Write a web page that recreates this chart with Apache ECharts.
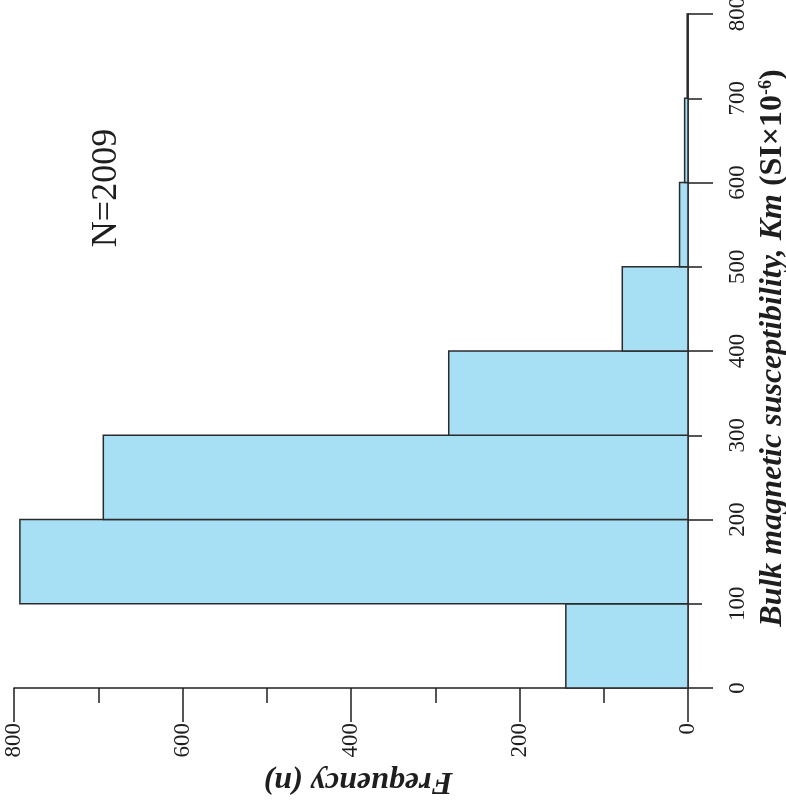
<!DOCTYPE html>
<html>
<head>
<meta charset="utf-8">
<script src="https://cdn.jsdelivr.net/npm/echarts@6/dist/echarts.min.js"></script>
<style>
  html, body { margin: 0; padding: 0; background: #fff; }
  #histogram { width: 786px; height: 800px; }
</style>
</head>
<body>
<div id="histogram"></div>
<script>
// bins of bulk magnetic susceptibility (SI x 10^-6)
var binStarts = [0, 100, 200, 300, 400, 500, 600, 700]
var binEnds = [100, 200, 300, 400, 500, 600, 700, 800]
var counts = [145, 793, 694, 284, 78, 10, 4, 1]
var sampleLabel = 'N=2009'

var serif = '"Liberation Serif", "DejaVu Serif", serif'
var ink = '#1e1e1e'

var chart = echarts.init(document.getElementById('histogram'))

var binData = binStarts.map(function (s, i) {
  return [s, binEnds[i], counts[i]]
})

var option = {
  animation: false,
  grid: {
    left: 14,
    right: 98,
    top: 14,
    bottom: 112,
    containLabel: false,
    outerBoundsMode: 'none'
  },
  xAxis: {
    type: 'value',
    inverse: true,
    position: 'bottom',
    min: 0,
    max: 800,
    interval: 200,
    name: 'Frequency (n)',
    nameLocation: 'middle',
    nameRotate: 180,
    nameGap: 72,
    nameTextStyle: {
      fontFamily: serif,
      fontSize: 32,
      fontWeight: 'bold',
      fontStyle: 'italic',
      color: ink,
      padding: [0, 14, 0, 0]
    },
    axisLine: { show: true, lineStyle: { color: ink, width: 1.5 } },
    axisTick: { show: true, length: 34, lineStyle: { color: ink, width: 1.5 } },
    minorTick: { show: true, splitNumber: 2, length: 15, lineStyle: { color: ink, width: 1.5 } },
    splitLine: { show: false },
    axisLabel: {
      rotate: 90,
      margin: 35,
      fontFamily: serif,
      fontSize: 23,
      color: ink
    }
  },
  yAxis: [
    {
      type: 'value',
      position: 'right',
      min: 0,
      max: 800,
      interval: 100,
      name: '{b|Bulk magnetic susceptibility, Km }{u|(SI×10}{s|-6}{u|)}',
      nameLocation: 'middle',
      nameRotate: 90,
      nameGap: 66,
      nameTextStyle: {
        fontFamily: serif,
        color: ink,
        padding: [0, 0, 0, 6],
        rich: {
          b: { fontFamily: serif, fontSize: 32, fontWeight: 'bold', fontStyle: 'italic', color: ink },
          u: { fontFamily: serif, fontSize: 32, fontWeight: 'bold', color: ink },
          s: { fontFamily: serif, fontSize: 18, fontWeight: 'bold', color: ink, verticalAlign: 'top', padding: [0, 0, 12, 0] }
        }
      },
      axisLine: { show: true, lineStyle: { color: ink, width: 1.5 } },
      axisTick: { show: true, length: 14, lineStyle: { color: ink, width: 1.5 } },
      splitLine: { show: false },
      axisLabel: {
        rotate: 90,
        margin: 38,
        fontFamily: serif,
        fontSize: 23,
        color: ink
      }
    },
    {
      // long ticks every 200
      type: 'value',
      position: 'right',
      min: 0,
      max: 800,
      interval: 200,
      axisLine: { show: false },
      axisTick: { show: true, length: 25, lineStyle: { color: ink, width: 1.5 } },
      axisLabel: { show: false },
      splitLine: { show: false }
    }
  ],
  graphic: [
    {
      type: 'text',
      x: 107,
      y: 188,
      rotation: Math.PI / 2,
      style: {
        text: sampleLabel,
        fontFamily: serif,
        fontSize: 36,
        fill: ink,
        align: 'center',
        verticalAlign: 'middle'
      }
    }
  ],
  series: [
    {
      type: 'custom',
      xAxisIndex: 0,
      yAxisIndex: 0,
      data: binData,
      renderItem: function (params, api) {
        var p0 = api.coord([0, api.value(0)])
        var p1 = api.coord([api.value(2), api.value(1)])
        return {
          type: 'rect',
          shape: {
            x: Math.min(p0[0], p1[0]),
            y: Math.min(p0[1], p1[1]),
            width: Math.abs(p1[0] - p0[0]),
            height: Math.abs(p1[1] - p0[1])
          },
          style: {
            fill: '#a7dff4',
            stroke: '#2b2b2b',
            lineWidth: 1.5
          }
        }
      }
    }
  ]
}

chart.setOption(option)
</script>
</body>
</html>
